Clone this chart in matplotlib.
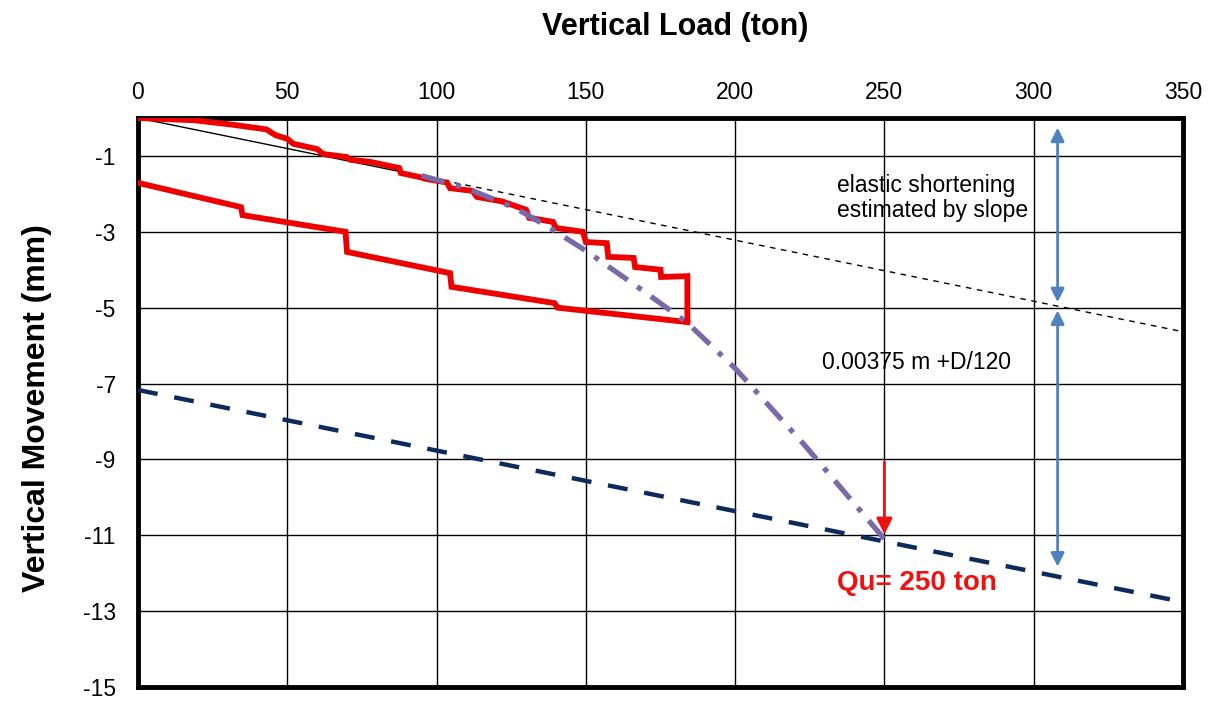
import matplotlib
matplotlib.use("Agg")
import matplotlib.pyplot as plt
import numpy as np

plt.rcParams['font.family'] = ['Liberation Sans', 'DejaVu Sans']
plt.rcParams['axes.unicode_minus'] = False

# Loading curve (ton, mm)
load_x = [0, 19, 32, 43, 46, 50, 52, 60, 62, 70, 71, 78, 87.5, 88, 95, 96, 103.5, 104.5,
          112, 113.5, 122, 130, 131, 139, 140, 149, 150, 157, 157.5, 166, 166.5, 175, 175.2, 184, 184]
load_y = [0, -0.06, -0.18, -0.30, -0.45, -0.55, -0.68, -0.82, -0.95, -1.03, -1.10, -1.16, -1.32, -1.45,
          -1.57, -1.60, -1.70, -1.85, -1.92, -2.08, -2.20, -2.42, -2.63, -2.74, -2.90, -3.00, -3.27,
          -3.30, -3.66, -3.69, -3.93, -4.00, -4.19, -4.17, -5.38]
# Unloading curve
unload_x = [184, 140.5, 139.5, 105, 104.5, 70, 69.5, 35, 34.5, 0]
unload_y = [-5.38, -5.00, -4.88, -4.45, -4.09, -3.53, -3.00, -2.56, -2.35, -1.71]

# Construction (dash-dot) curve
fit_x = [95, 110, 120, 127, 138, 150, 160, 170, 184, 200, 223, 250]
fit_y = [-1.52, -1.85, -2.17, -2.40, -2.90, -3.50, -4.05, -4.60, -5.40, -6.60, -8.60, -11.10]

# Elastic shortening line
elastic_slope = -0.0161
elastic_solid_x = [0, 95]
elastic_dash_x = [95, 350]
# Failure criterion line
crit_x = [0, 350]
crit_y = [-7.17, -12.76]

x_ticks = [0, 50, 100, 150, 200, 250, 300, 350]
y_ticks = [-1, -3, -5, -7, -9, -11, -13, -15]

fig = plt.figure(figsize=(12.15, 7.11), dpi=100)
ax = fig.add_axes([138/1215, 1-687/711, (1183-138)/1215, (687-118)/711])

ax.set_xlim(0, 350)
ax.set_ylim(-15, 0)
ax.xaxis.tick_top()
ax.set_xticks(x_ticks)
ax.set_yticks(y_ticks)
ax.tick_params(axis='both', length=0, labelsize=16.5)
ax.tick_params(axis='x', pad=10)
ax.tick_params(axis='y', pad=16)
ax.grid(True, color='black', linewidth=1.0)
ax.set_axisbelow(True)
for s in ax.spines.values():
    s.set_linewidth(3.5)
    s.set_color('black')

ax.plot(elastic_solid_x, [elastic_slope*v for v in elastic_solid_x], color='black', lw=1.0, zorder=3)
ax.plot(elastic_dash_x, [elastic_slope*v for v in elastic_dash_x], color='black', lw=1.0,
        dashes=(4, 4), zorder=3)
ax.plot(crit_x, crit_y, color='#0d2a5c', lw=3.2, dashes=(4.5, 3.8), zorder=3)
ax.plot(load_x, load_y, color='#ee0000', lw=4.2, zorder=4, solid_joinstyle='miter')
ax.plot(unload_x, unload_y, color='#ee0000', lw=4.2, zorder=4, solid_joinstyle='miter')
ax.plot(fit_x, fit_y, color='#7b68a8', lw=3.8, dashes=(4.5, 2.2, 1, 2.2), zorder=5)

# Arrows
ax.annotate('', xy=(250, -11.05), xytext=(250, -9.0),
            arrowprops=dict(arrowstyle='-|>', color='#ee1111', lw=2, mutation_scale=24), zorder=6)
ax.annotate('', xy=(308, -0.18), xytext=(308, -4.93),
            arrowprops=dict(arrowstyle='<|-|>', color='#4f81bd', lw=2, mutation_scale=20), zorder=6)
ax.annotate('', xy=(308, -5.0), xytext=(308, -11.9),
            arrowprops=dict(arrowstyle='<|-|>', color='#4f81bd', lw=2, mutation_scale=20), zorder=6)

ax.text(234, -2.1, 'elastic shortening\nestimated by slope', fontsize=16.5, ha='left', va='center',
        linespacing=1.1)
ax.text(229, -6.45, '0.00375 m +D/120', fontsize=16.5, ha='left', va='center')
ax.text(234, -12.25, 'Qu= 250 ton', fontsize=20, fontweight='bold', color='#ee1111',
        ha='left', va='center')

fig.text(675/1215, 1-27/711, 'Vertical Load (ton)', fontsize=22, fontweight='bold',
         ha='center', va='center')
fig.text(37/1215, 1-408/711, 'Vertical Movement (mm)', fontsize=23, fontweight='bold',
         ha='center', va='center', rotation=90)

fig.savefig('out.png', dpi=100)
